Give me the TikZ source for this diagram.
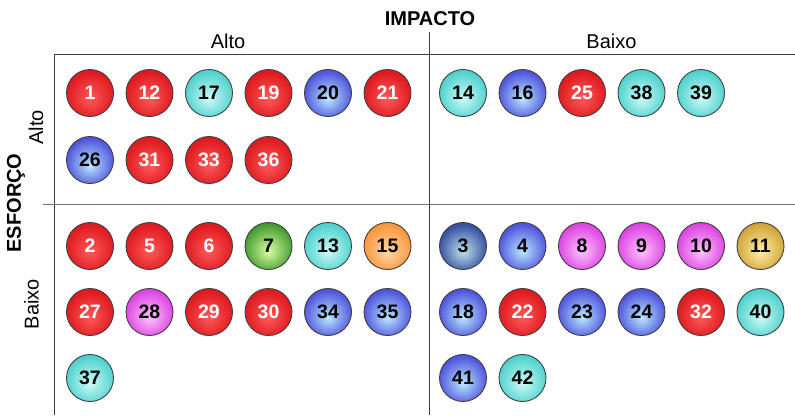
\documentclass[tikz,border=0pt]{standalone}
\usepackage{fontspec}
\setmainfont{Liberation Sans}
\definecolor{redin}{RGB}{255,90,90}\definecolor{redout}{RGB}{225,30,35}\definecolor{rededge}{RGB}{160,5,10}
\definecolor{cyanin}{RGB}{205,250,248}\definecolor{cyanout}{RGB}{80,210,205}\definecolor{cyanedge}{RGB}{40,170,170}
\definecolor{bluein}{RGB}{185,232,255}\definecolor{blueout}{RGB}{80,85,220}\definecolor{blueedge}{RGB}{40,40,160}
\definecolor{navyin}{RGB}{190,228,236}\definecolor{navyout}{RGB}{55,80,160}\definecolor{navyedge}{RGB}{20,25,85}
\definecolor{magin}{RGB}{255,195,255}\definecolor{magout}{RGB}{220,70,225}\definecolor{magedge}{RGB}{165,30,170}
\definecolor{grnin}{RGB}{215,255,160}\definecolor{grnout}{RGB}{70,155,50}\definecolor{grnedge}{RGB}{25,95,20}
\definecolor{orgin}{RGB}{255,215,170}\definecolor{orgout}{RGB}{250,150,60}\definecolor{orgedge}{RGB}{220,110,20}
\definecolor{goldin}{RGB}{255,240,165}\definecolor{goldout}{RGB}{210,165,60}\definecolor{goldedge}{RGB}{150,105,25}
\definecolor{linecol}{RGB}{60,60,60}
\pgfdeclareradialshading{shred}{\pgfpoint{0bp}{-6bp}}{color(0bp)=(redin); color(24bp)=(redout); color(50bp)=(rededge)}
\pgfdeclareradialshading{shcyan}{\pgfpoint{0bp}{-6bp}}{color(0bp)=(cyanin); color(26bp)=(cyanout); color(50bp)=(cyanedge)}
\pgfdeclareradialshading{shblue}{\pgfpoint{0bp}{-6bp}}{color(0bp)=(bluein); color(26bp)=(blueout); color(50bp)=(blueedge)}
\pgfdeclareradialshading{shnavy}{\pgfpoint{0bp}{-6bp}}{color(0bp)=(navyin); color(26bp)=(navyout); color(50bp)=(navyedge)}
\pgfdeclareradialshading{shmag}{\pgfpoint{0bp}{-6bp}}{color(0bp)=(magin); color(26bp)=(magout); color(50bp)=(magedge)}
\pgfdeclareradialshading{shgrn}{\pgfpoint{0bp}{-6bp}}{color(0bp)=(grnin); color(26bp)=(grnout); color(50bp)=(grnedge)}
\pgfdeclareradialshading{shorg}{\pgfpoint{0bp}{-6bp}}{color(0bp)=(orgin); color(26bp)=(orgout); color(50bp)=(orgedge)}
\pgfdeclareradialshading{shgold}{\pgfpoint{0bp}{-6bp}}{color(0bp)=(goldin); color(26bp)=(goldout); color(50bp)=(goldedge)}
\begin{document}
\begin{tikzpicture}[x=1pt,y=-1pt,
  ball/.style={circle,minimum size=47pt,inner sep=0pt,draw=black!75,line width=0.9pt,
    font=\bfseries\fontsize{19.5}{19.5}\selectfont},
  R/.style={ball,shading=shred,text=white},
  C/.style={ball,shading=shcyan,text=black},
  B/.style={ball,shading=shblue,text=black},
  N/.style={ball,shading=shnavy,text=black},
  M/.style={ball,shading=shmag,text=black},
  G/.style={ball,shading=shgrn,text=black},
  O/.style={ball,shading=shorg,text=black},
  Y/.style={ball,shading=shgold,text=black},
  axis/.style={font=\bfseries\fontsize{20}{20}\selectfont},
  lvl/.style={font=\fontsize{20}{20}\selectfont},
  grid/.style={draw=linecol,line width=1pt}]
\useasboundingbox (0,0) rectangle (795,415);
% grid
\coordinate (tl) at (54,54); \coordinate (tr) at (795,54);
\coordinate (lb) at (54,415);
\coordinate (hl) at (43,204); \coordinate (hr) at (795,204);
\coordinate (vt) at (429,32); \coordinate (vb) at (429,415);
\draw[grid] (tl) -- (tr);
\draw[grid] (tl) -- (lb);
\draw[grid,draw=black!55] (hl) -- (hr);
\draw[grid] (vt) -- (vb);
% labels
\node[axis] (impacto) at (430,19) {IMPACTO};
\node[lvl] (ialto) at (228,41) {Alto};
\node[lvl] (ibaixo) at (611.5,41) {Baixo};
\node[axis,rotate=90] (esforco) at (16,203) {ESFORÇO};
\node[lvl,rotate=90] (ealto) at (36,127.5) {Alto};
\node[lvl,rotate=90] (ebaixo) at (31.5,304) {Baixo};
% balls
\foreach \x/\y/\n/\s in {
  90/93/1/R, 149.5/93/12/R, 209/93/17/C, 268.5/93/19/R, 328/93/20/B, 387.5/93/21/R,
  90/160/26/B, 149.5/160/31/R, 209/160/33/R, 268.5/160/36/R,
  463/93/14/C, 522.5/93/16/B, 582/93/25/R, 641.5/93/38/C, 701/93/39/C,
  90/246/2/R, 149.5/246/5/R, 209/246/6/R, 268.5/246/7/G, 328/246/13/C, 387.5/246/15/O,
  90/312/27/R, 149.5/312/28/M, 209/312/29/R, 268.5/312/30/R, 328/312/34/B, 387.5/312/35/B,
  90/378/37/C,
  463/246/3/N, 522.5/246/4/B, 582/246/8/M, 641.5/246/9/M, 701/246/10/M, 760.5/246/11/Y,
  463/312/18/B, 522.5/312/22/R, 582/312/23/B, 641.5/312/24/B, 701/312/32/R, 760.5/312/40/C,
  463/378/41/B, 522.5/378/42/C}
  \node[\s] (b\n) at (\x,\y) {\n};
\end{tikzpicture}
\end{document}
